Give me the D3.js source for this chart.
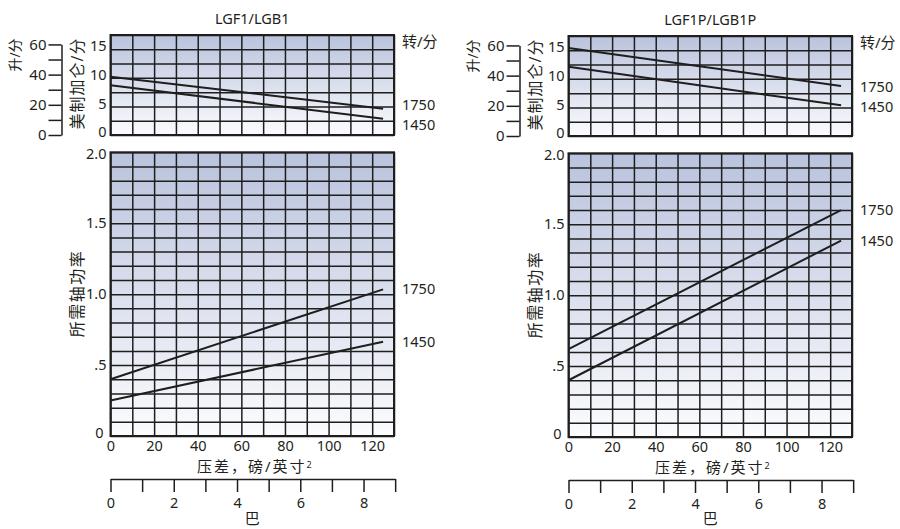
<!DOCTYPE html>
<html><head><meta charset="utf-8">
<script src="https://cdn.jsdelivr.net/npm/d3@7"></script>
<style>
body{margin:0;background:#fff}
svg{display:block}
text{font-family:"Noto Sans","Noto Sans CJK SC",sans-serif;fill:#231f20}
</style></head>
<body><svg id="c" width="900" height="529"></svg>
<script>
// ---- data ----
const titles = ["LGF1/LGB1", "LGF1P/LGB1P"];
const rpmLabels = ["1750", "1450"];
const psiEnds = [0, 125];                     // psi at line start / end
const flowLeft1750 = [10.2, 4.6];             // US gal/min
const flowLeft1450 = [8.7, 2.85];
const flowRight1750 = [15.4, 8.75];
const flowRight1450 = [12.1, 5.37];
const powerLeft1750 = [0.40, 1.034];          // shaft power
const powerLeft1450 = [0.25, 0.665];
const powerRight1750 = [0.62, 1.60];
const powerRight1450 = [0.40, 1.385];
const psiTicks = [0, 20, 40, 60, 80, 100, 120];
const galTicks = [0, 5, 10, 15];
const lpmTicks = [0, 10, 20, 30, 40, 50, 60];
const powerTicks = [0, 0.5, 1.0, 1.5, 2.0];
const powerTickLabels = ["0", ".5", "1.0", "1.5", "2.0"];
const barTicks = [0, 1, 2, 3, 4, 5, 6, 7, 8, 9];

// ---- layout ----
const svg = d3.select("#c");
const W = 283.5;
const PX = [110.5, 568.5];
const PDY = [0, 1];
const GAL_TO_L = 3.7854, BAR_TO_PSI = 14.5038;

const defs = svg.append("defs");
const grad = defs.append("linearGradient").attr("id", "bg").attr("x1", 0).attr("y1", 0).attr("x2", 0).attr("y2", 1);
grad.append("stop").attr("offset", "0%").attr("stop-color", "#bac3dd");
grad.append("stop").attr("offset", "100%").attr("stop-color", "#fbfcfe");

function styleGrid(g) {
  g.select(".domain").remove();
  g.selectAll("line").attr("stroke", "#1e1e1e").attr("stroke-width", 1.5);
}

function drawPanel(i, flowSeries, powerSeries) {
  const x0 = PX[i], dy = PDY[i];
  const g = svg.append("g");
  const x = d3.scaleLinear([0, 130], [x0, x0 + W]);
  const yG = d3.scaleLinear([0, 17.5], [135 + dy, 35 + dy]);
  const yP = d3.scaleLinear([0, 2], [436 + dy, 152.3 + dy]);
  const yL = d3.scaleLinear([0, 60], [yG(0), yG(60 / GAL_TO_L)]);
  const xB = d3.scaleLinear([0, 9], [x(0), x(9 * BAR_TO_PSI)]);

  // title
  g.append("text").attr("x", x0 + W / 2).attr("y", 19 + dy).attr("dy", "0.35em")
    .attr("text-anchor", "middle").attr("font-size", 14.5).text(titles[i]);

  const sub = [
    {y: yG, ticks: d3.range(0, 17.6, 2.5), series: flowSeries},
    {y: yP, ticks: d3.range(0, 2.01, 0.1), series: powerSeries}
  ];
  sub.forEach(s => {
    const yTop = s.y.range()[1], yBot = s.y.range()[0];
    g.append("rect").attr("x", x0).attr("y", yTop).attr("width", W).attr("height", yBot - yTop)
      .attr("fill", "url(#bg)");
    g.append("g").attr("transform", `translate(0,${yBot})`)
      .call(d3.axisBottom(x).tickValues(d3.range(0, 131, 10)).tickSize(-(yBot - yTop)).tickFormat(""))
      .call(styleGrid);
    g.append("g").attr("transform", `translate(${x0},0)`)
      .call(d3.axisLeft(s.y).tickValues(s.ticks).tickSize(-W).tickFormat(""))
      .call(styleGrid);
    g.append("rect").attr("x", x0).attr("y", yTop).attr("width", W).attr("height", yBot - yTop)
      .attr("fill", "none").attr("stroke", "#1e1e1e").attr("stroke-width", 2);
    const line = d3.line().x((d, j) => x(psiEnds[j])).y(d => s.y(d));
    s.series.forEach(vals => {
      g.append("path").attr("d", line(vals)).attr("fill", "none")
        .attr("stroke", "#1e1e1e").attr("stroke-width", 2);
    });
    // rpm labels at line ends, separated if too close
    let ys = s.series.map(v => s.y(v[v.length - 1]));
    if (Math.abs(ys[1] - ys[0]) < 20) {
      const m = (ys[0] + ys[1]) / 2 + 1.5;
      ys = [m - 10, m + 10];
    }
    ys.forEach((yy, k) => {
      g.append("text").attr("x", x0 + W + 8).attr("y", yy).attr("dy", "0.35em")
        .attr("font-size", 14.5).text(rpmLabels[k]);
    });
  });

  // 转/分
  g.append("text").attr("x", x0 + W + 8).attr("y", 42 + dy).attr("dy", "0.35em")
    .attr("font-size", 15).text("转/分");

  // gal axis labels
  const ga = g.append("g").attr("transform", `translate(${x0},-3)`)
    .call(d3.axisLeft(yG).tickValues(galTicks).tickSize(0).tickPadding(4));
  ga.select(".domain").remove();
  ga.selectAll("text").attr("font-size", 14.5).attr("font-family", null).attr("fill", "#231f20");

  // L/min axis
  const la = g.append("g").attr("transform", `translate(${x0 - 49},0)`)
    .call(d3.axisLeft(yL).tickValues(lpmTicks).tickSize(13).tickSizeOuter(0).tickPadding(2)
      .tickFormat(d => d % 20 === 0 ? d : ""));
  la.selectAll("line,path").attr("stroke", "#1e1e1e").attr("stroke-width", 1.5);
  la.selectAll("text").attr("font-size", 15).attr("font-family", null).attr("fill", "#231f20");

  // rotated axis titles
  const rot = (cx, cy, txt, fs, ls) => g.append("text")
    .attr("transform", `translate(${cx},${cy}) rotate(-90)`).attr("text-anchor", "middle")
    .attr("dy", "0.35em").attr("font-size", fs).attr("letter-spacing", ls).text(txt);
  rot(x0 - 95, 55 + dy, "升/分", 14, 0);
  rot(x0 - 33, 83.5 + dy, "美制加仑/分", 16, 1);
  rot(x0 - 33, 293.5 + dy, "所需轴功率", 16, 1.5);

  // power axis labels
  const pa = g.append("g").attr("transform", `translate(${x0},0)`)
    .call(d3.axisLeft(yP).tickValues(powerTicks).tickSize(0).tickPadding(4)
      .tickFormat((d, k) => powerTickLabels[k]));
  pa.select(".domain").remove();
  pa.selectAll("text").attr("font-size", 14.5).attr("font-family", null).attr("fill", "#231f20");
  pa.selectAll(".tick").filter(d => d === 0).select("text").attr("dy", "0.1em").attr("x", -7);
  pa.selectAll(".tick").filter(d => d === 2).select("text").attr("dy", "0.42em");

  // psi axis labels
  const xa = g.append("g").attr("transform", `translate(0,${yP(0)})`)
    .call(d3.axisBottom(x).tickValues(psiTicks).tickSize(0).tickPadding(5));
  xa.select(".domain").remove();
  xa.selectAll("text").attr("font-size", 14.5).attr("font-family", null).attr("fill", "#231f20");

  const xt = g.append("text").attr("x", x0 + W / 2 + 3).attr("y", 467 + dy).attr("dy", "0.35em")
    .attr("text-anchor", "middle").attr("font-size", 15).attr("letter-spacing", 2);
  xt.append("tspan").text("压差，磅/英寸");
  xt.append("tspan").attr("font-size", 9).attr("dy", "-0.5em").text("2");

  // bar axis
  const ba = g.append("g").attr("transform", `translate(0,${479 + dy})`)
    .call(d3.axisBottom(xB).tickValues(barTicks).tickSize(13).tickSizeOuter(0).tickPadding(6)
      .tickFormat(d => d % 2 === 0 ? d : ""));
  ba.selectAll("line,path").attr("stroke", "#1e1e1e").attr("stroke-width", 1.5);
  ba.selectAll("text").attr("font-size", 14.5).attr("font-family", null).attr("fill", "#231f20");

  g.append("text").attr("x", x0 + W / 2).attr("y", 519).attr("dy", "0.35em")
    .attr("text-anchor", "middle").attr("font-size", 15).text("巴");
}

drawPanel(0, [flowLeft1750, flowLeft1450], [powerLeft1750, powerLeft1450]);
drawPanel(1, [flowRight1750, flowRight1450], [powerRight1750, powerRight1450]);
</script>
</body></html>
